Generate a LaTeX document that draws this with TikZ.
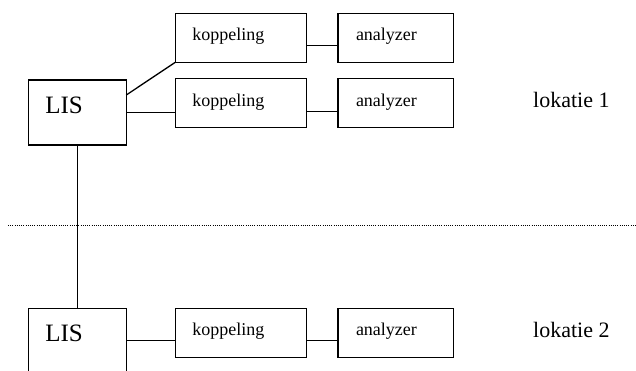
\documentclass[tikz,border=0pt]{standalone}
\usepackage{fontspec}
\setmainfont{Liberation Serif}
\usepackage{tikz}
\usetikzlibrary{positioning}
\tikzstyle{lisbox} = [rectangle, draw=black, line width=1.3pt, outer sep=0pt, inner xsep=17pt, inner ysep=0pt, text width=64pt, align=left, text height=33.3pt, text depth=31.7pt, font=\fontsize{25}{27}\selectfont]
\tikzstyle{koppbox} = [rectangle, draw=black, line width=1.3pt, outer sep=0pt, inner xsep=17pt, inner ysep=0pt, text width=97pt, align=left, text height=27.5pt, text depth=21.5pt, font=\fontsize{18}{20}\selectfont]
\tikzstyle{anabox} = [rectangle, draw=black, line width=1.3pt, outer sep=0pt, inner xsep=18pt, inner ysep=0pt, text width=79.6pt, align=left, text height=27.5pt, text depth=21.5pt, font=\fontsize{18}{20}\selectfont]
\tikzstyle{loclabel} = [anchor=base west, inner sep=0pt, font=\fontsize{22}{24}\selectfont]
\tikzstyle{link} = [line width=1.3pt]
\tikzstyle{border} = [line width=0.8pt, dash pattern=on 1pt off 1.2pt]

\begin{document}
\begin{tikzpicture}[x=1pt, y=-1pt, node distance=49pt]
        \useasboundingbox (0,0) rectangle (636,370);
        \clip (0,0) rectangle (636,370);
        \node (lis1) [lisbox, anchor=north west] at (28.3,80) {LIS};
        \node (kop2) [koppbox, right=49pt of lis1, yshift=9.3pt] {koppeling};
        \node (kop1) [koppbox, above=16.4pt of kop2] {koppeling};
        \node (ana1) [anabox, right=31.7pt of kop1] {analyzer};
        \node (ana2) [anabox, right=31.7pt of kop2] {analyzer};
        \node (lok1) [loclabel] at (533,107.3) {lokatie 1};
        \node (lis2) [lisbox, below=163.3pt of lis1] {LIS};
        \node (kop3) [koppbox, right=49pt of lis2, yshift=8pt] {koppeling};
        \node (ana3) [anabox, right=31.7pt of kop3] {analyzer};
        \node (lok2) [loclabel] at (533,337.3) {lokatie 2};
        \coordinate (sepL) at (8,225);
        \coordinate (sepR) at (636,225);

        \draw[link] ([yshift=17.5pt]lis1.east) -- (kop1.south west);
        \draw[link] (lis1.east) -- (lis1.east -| kop2.west);
        \draw[link] ([yshift=-8pt]kop1.east) -- ([yshift=-8pt]ana1.west);
        \draw[link] ([yshift=-8pt]kop2.east) -- ([yshift=-8pt]ana2.west);
        \draw[link] (lis1.south) -- (lis2.north);
        \draw[link] (lis2.east) -- (lis2.east -| kop3.west);
        \draw[link] ([yshift=-8pt]kop3.east) -- ([yshift=-8pt]ana3.west);
        \draw[border] (sepL) -- (sepR);
\end{tikzpicture}
\end{document}
